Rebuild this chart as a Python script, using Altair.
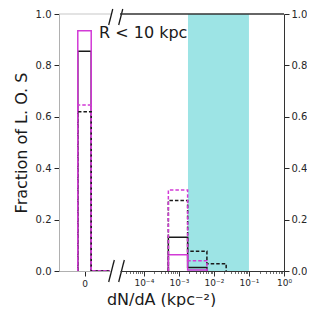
import altair as alt
import pandas as pd

# ---------------- data ----------------
series_names = ["k_solid", "m_solid", "k_dash", "m_dash"]
series_colors = ["#1a1a1a", "#d23ad6", "#1a1a1a", "#d23ad6"]
series_dash = [[1, 0], [1, 0], [3.5, 2], [3.5, 2]]

# bar at dN/dA = 0 (left panel)
zero_bin_edges = [-0.5, 0.5]
zero_bar = {"k_solid": 0.855, "m_solid": 0.935, "k_dash": 0.620, "m_dash": 0.646}

# log10 bin edges of the right panel
log_bin_edges = [-3.30, -2.75, -2.20, -1.65]
right_vals = {
    "k_solid": [0.131, 0.014],
    "m_solid": [0.063, 0.004],
    "k_dash": [0.274, 0.077, 0.028],
    "m_dash": [0.315, 0.040],
}

shade_log = [-2.74, -1.0]
major_exp = [-4, -3, -2, -1, 0]
sup = {-4: "⁻⁴", -3: "⁻³", -2: "⁻²", -1: "⁻¹", 0: "⁰"}

left_domain = [-1.9, 1.9]
right_log_domain = [-4.68, 0.0]
label_text = "R < 10 kpc"

W1, W2, H = 51, 164, 257
FONT = "DejaVu Sans"

# ---------------- helpers ----------------
def outline(edges, heights, xmax=None):
    pts = [(edges[0], 0.0)]
    for i, h in enumerate(heights):
        pts.append((edges[i], h))
        pts.append((edges[i + 1], h))
    pts.append((edges[len(heights)], 0.0))
    if xmax is not None:
        pts.append((xmax, 0.0))
    return pd.DataFrame({"x": [p[0] for p in pts], "y": [p[1] for p in pts],
                         "o": list(range(len(pts)))})

yscale = alt.Scale(domain=[0, 1], nice=False)

# ---------------- left panel ----------------
left_layers = []
for name, col, dash in zip(series_names, series_colors, series_dash):
    df = outline(zero_bin_edges, [zero_bar[name]], xmax=left_domain[1])
    left_layers.append(
        alt.Chart(df).mark_line(color=col, strokeDash=dash, strokeWidth=1.5, clip=True).encode(
            x=alt.X("x:Q", scale=alt.Scale(domain=left_domain, nice=False, zero=False),
                    axis=alt.Axis(values=[0], labelExpr="'0'", title=None, grid=False,
                                  domainColor="#b0b0b0", tickColor="#262626", tickSize=5,
                                  labelFontSize=9, labelColor="#262626", labelPadding=3)),
            y=alt.Y("y:Q", scale=yscale,
                    axis=alt.Axis(values=[0, 0.2, 0.4, 0.6, 0.8, 1.0], format=".1f",
                                  title="Fraction of L. O. S", titleFontSize=16,
                                  titleFontWeight="normal", titleColor="#1a1a1a",
                                  titlePadding=6, grid=False, domainColor="#b0b0b0",
                                  tickColor="#262626", tickSize=5, labelFontSize=10,
                                  labelColor="#262626", labelPadding=3)),
            order="o:Q",
        )
    )

left_top = alt.Chart(pd.DataFrame({"v": [1.0]})).mark_rule(color="#c8c8c8", strokeWidth=1.2).encode(
    y=alt.Y("v:Q", scale=yscale), x=alt.value(0), x2=alt.value(W1 + 2))

txt = alt.Chart(pd.DataFrame({"t": [label_text]})).mark_text(
    align="left", baseline="alphabetic", fontSize=16, font=FONT, color="#1a1a1a").encode(
    text="t:N", x=alt.value(40), y=alt.value(24))

breaks = []
for cx in [52.5, 62.5]:
    for cy, up, dn in [(0, 5, 11), (H, 11, 11)]:
        breaks.append(alt.Chart(pd.DataFrame({"a": [0]})).mark_rule(color="#1a1a1a", strokeWidth=1.3).encode(
            x=alt.value(cx - 2.8 * dn / 11), y=alt.value(cy + dn),
            x2=alt.value(cx + 2.8 * up / 11), y2=alt.value(cy - up)))

left = alt.layer(*left_layers, left_top, txt, *breaks).properties(width=W1, height=H)

# ---------------- right panel ----------------
minor_vals = []
for e in range(-5, 1):
    for m in range(1, 10):
        v = m * 10.0 ** e
        if 10 ** right_log_domain[0] <= v <= 10 ** right_log_domain[1] * 1.0001:
            minor_vals.append(v)

lg = "log(datum.value)/LN10"
is_major = f"abs({lg} - round({lg})) < 0.01"
lab = "''"
for e in major_exp:
    lab = f"round({lg}) == {e} ? '10{sup[e]}' : ({lab})"
label_expr = f"{is_major} ? ({lab}) : ''"

xscale_r = alt.Scale(type="log", domain=[10 ** right_log_domain[0], 10 ** right_log_domain[1]], nice=False)
xaxis_r = alt.Axis(values=minor_vals, labelExpr=label_expr, title="dN/dA (kpc⁻²)",
                   titleFontSize=16, titleFontWeight="normal", titleColor="#1a1a1a",
                   titleX=41, titleAlign="center", titlePadding=4,
                   grid=False, domainColor="#333333", tickColor="#333333",
                   tickSize={"condition": {"test": is_major, "value": 5}, "value": 2.5},
                   tickWidth={"condition": {"test": is_major, "value": 1}, "value": 0.7},
                   labelFontSize=9, labelColor="#262626", labelPadding=2, labelFlush=False,
                   labelOverlap=False)

shade = alt.Chart(pd.DataFrame({"lo": [10 ** shade_log[0]], "hi": [10 ** shade_log[1]]})).mark_rect(
    color="#9de4e5").encode(
    x=alt.X("lo:Q", scale=xscale_r, axis=xaxis_r), x2="hi:Q",
    y=alt.value(0), y2=alt.value(H))

right_layers = [shade]
edges_r = [10 ** e for e in log_bin_edges]
for name, col, dash in zip(series_names, series_colors, series_dash):
    h = right_vals[name]
    df = outline(edges_r[: len(h) + 1], h)
    right_layers.append(
        alt.Chart(df).mark_line(color=col, strokeDash=dash, strokeWidth=1.5, clip=True).encode(
            x=alt.X("x:Q", scale=xscale_r, axis=xaxis_r),
            y=alt.Y("y:Q", scale=yscale,
                    axis=alt.Axis(orient="right", values=[0, 0.2, 0.4, 0.6, 0.8, 1.0], format=".1f",
                                  title=None, grid=False, domainColor="#333333",
                                  tickColor="#262626", tickSize=5, labelFontSize=10,
                                  labelColor="#262626", labelPadding=2)),
            order="o:Q",
        )
    )

right_top = alt.Chart(pd.DataFrame({"v": [1.0]})).mark_rule(color="#333333", strokeWidth=1.3).encode(
    y=alt.Y("v:Q", scale=yscale), x=alt.value(0), x2=alt.value(W2))

right = alt.layer(*right_layers, right_top).properties(width=W2, height=H)

chart = alt.hconcat(left, right, spacing=10, bounds="flush").properties(
    padding={"left": 5, "top": 0, "right": 0, "bottom": 0}
).configure(
    font=FONT,
    view=alt.ViewConfig(strokeWidth=0, stroke="transparent"),
    axis=alt.AxisConfig(labelFont=FONT, titleFont=FONT),
)

chart.save("out.html", embed_options={"renderer": "svg", "actions": False})
